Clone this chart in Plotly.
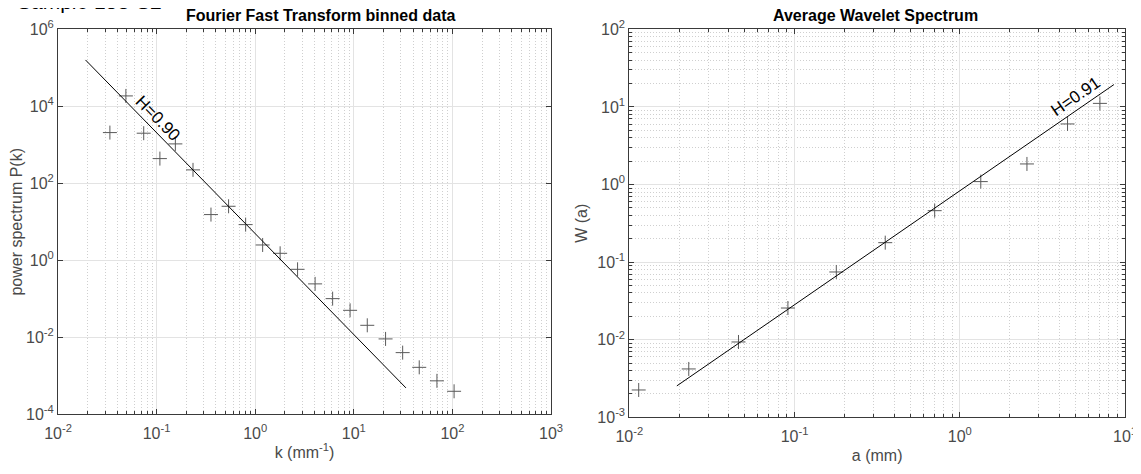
import numpy as np
import plotly.graph_objects as go

# ---------------- data ----------------
k_vals = [0.0336, 0.0488, 0.074, 0.108, 0.155, 0.234, 0.356, 0.537, 0.80, 1.19, 1.79,
          2.69, 4.05, 6.1, 9.17, 13.7, 21.0, 31.3, 46.1, 69.7, 104]
P_vals = [2075, 18600, 2000, 438, 1055, 223, 15.4, 25.3, 8.45, 2.5, 1.52,
          0.583, 0.244, 0.101, 0.0502, 0.0205, 0.00908, 0.0040, 0.00166, 7.4e-4, 3.96e-4]
k_fit = [0.019, 33.8]
P_fit = [1.6e5, 4.85e-4]

a_vals = [0.0114, 0.0229, 0.0458, 0.0912, 0.179, 0.354, 0.705, 1.34, 2.55, 4.49, 7.05]
W_vals = [0.00225, 0.0042, 0.00935, 0.0256, 0.0746, 0.178, 0.46, 1.09, 1.84, 6.03, 11.1]
a_fit = [0.0194, 8.57]
W_fit = [0.00254, 19.4]

left_x_ticks = [1e-2, 1e-1, 1e0, 1e1, 1e2, 1e3]
left_x_text = ["10<sup>-2</sup>", "10<sup>-1</sup>", "10<sup>0</sup>", "10<sup>1</sup>", "10<sup>2</sup>", "10<sup>3</sup>"]
left_y_ticks = [1e-4, 1e-2, 1e0, 1e2, 1e4, 1e6]
left_y_text = ["10<sup>-4</sup>", "10<sup>-2</sup>", "10<sup>0</sup>", "10<sup>2</sup>", "10<sup>4</sup>", "10<sup>6</sup>"]
right_x_ticks = [1e-2, 1e-1, 1e0, 1e1]
right_x_text = ["10<sup>-2</sup>", "10<sup>-1</sup>", "10<sup>0</sup>", "10<sup>1</sup>"]
right_y_ticks = [1e-3, 1e-2, 1e-1, 1e0, 1e1, 1e2]
right_y_text = ["10<sup>-3</sup>", "10<sup>-2</sup>", "10<sup>-1</sup>", "10<sup>0</sup>", "10<sup>1</sup>", "10<sup>2</sup>"]

H_left_label = "H=0.90"
H_right_label = "H=0.91"


def minor_vals(lo, hi):
    out = []
    for e in range(lo, hi):
        for m in range(2, 10):
            out.append(m * 10.0 ** e)
    return out


FONT = "Liberation Sans, Arial, Helvetica, sans-serif"
AXC = "#3a3a3a"
TXT = "#4a4a4a"
GRID = "#e3e3e3"
MGRID = "#cfcfcf"
MARK = "#5a5a5a"
DOT = "1px,2px"

fig = go.Figure()

fig.add_trace(go.Scatter(x=k_vals, y=P_vals, mode="markers", xaxis="x", yaxis="y",
                         marker=dict(symbol="cross-thin", size=10, line=dict(width=1, color=MARK)),
                         showlegend=False))
fig.add_trace(go.Scatter(x=k_fit, y=P_fit, mode="lines", xaxis="x", yaxis="y",
                         line=dict(color="black", width=1), showlegend=False))
fig.add_trace(go.Scatter(x=a_vals, y=W_vals, mode="markers", xaxis="x2", yaxis="y2",
                         marker=dict(symbol="cross-thin", size=10, line=dict(width=1, color=MARK)),
                         showlegend=False))
fig.add_trace(go.Scatter(x=a_fit, y=W_fit, mode="lines", xaxis="x2", yaxis="y2",
                         line=dict(color="black", width=1), showlegend=False))

W_, H_ = 1141, 474
OFF = 8  # page body margin


def px(x):
    return (x - OFF) / W_


def py(y):
    return (H_ - (y - OFF)) / H_


common = dict(type="log", showline=True, linecolor=AXC, linewidth=1, mirror="allticks",
              ticks="inside", ticklen=5, tickcolor=AXC, showgrid=True, gridcolor=GRID,
              gridwidth=1, zeroline=False, tickfont=dict(family=FONT, size=16, color=TXT),
              tickmode="array", automargin=False)


def minor(lo, hi):
    return dict(tickmode="array", tickvals=minor_vals(lo, hi), ticks="inside", ticklen=3,
                tickcolor=AXC, showgrid=True, gridcolor=MGRID, griddash=DOT, gridwidth=1)


TF = dict(family=FONT, size=16, color=TXT)

fig.update_layout(
    width=W_, height=H_, margin=dict(l=0, r=0, t=0, b=0, autoexpand=False),
    paper_bgcolor="white", plot_bgcolor="white", showlegend=False,
    font=dict(family=FONT, color=TXT),
    xaxis=dict(common, domain=[px(58), px(551)], range=[-2, 3], anchor="y",
               tickvals=left_x_ticks, ticktext=left_x_text, minor=minor(-2, 3), ticklabelstandoff=4,
               title=dict(text="k (mm<sup>-1</sup>)", font=TF, standoff=6)),
    yaxis=dict(common, domain=[py(414.3), py(29.3)], range=[-4, 6], anchor="x",
               tickvals=left_y_ticks, ticktext=left_y_text,
               title=dict(text="power spectrum P(k)", font=TF, standoff=0)),
    xaxis2=dict(common, domain=[px(629.3), px(1125)], range=[-2, 1], anchor="y2",
                tickvals=right_x_ticks, ticktext=right_x_text, minor=minor(-2, 1), ticklabelstandoff=4,
                title=dict(text="a (mm)", font=TF, standoff=6)),
    yaxis2=dict(common, domain=[py(417.3), py(29.3)], range=[-3, 2], anchor="x2",
                tickvals=right_y_ticks, ticktext=right_y_text, minor=minor(-3, 2),
                title=dict(text="W (a)", font=TF, standoff=5)),
)

fig.add_annotation(x=px(320), y=py(15), xref="paper", yref="paper", showarrow=False,
                   xanchor="center", yanchor="middle",
                   text="<b>Fourier Fast Transform binned data</b>",
                   font=dict(family=FONT, size=16, color="black"))
fig.add_annotation(x=px(875), y=py(15), xref="paper", yref="paper", showarrow=False,
                   xanchor="center", yanchor="middle",
                   text="<b>Average Wavelet Spectrum</b>",
                   font=dict(family=FONT, size=16, color="black"))
fig.add_annotation(x=px(15), y=py(15), xref="paper", yref="paper", showarrow=False,
                   xanchor="left", yanchor="bottom",
                   text="Sample 153-S2", font=dict(family=FONT, size=21, color="black"))
fig.add_annotation(x=px(10), y=py(15), xref="paper", yref="paper", showarrow=False,
                   xanchor="right", yanchor="bottom",
                   text="●", font=dict(family="DejaVu Sans", size=19, color="black"))

fig.add_annotation(x=np.log10(0.103), y=np.log10(4800), xref="x", yref="y", showarrow=False,
                   xanchor="center", yanchor="middle",
                   text=H_left_label, textangle=45.6, font=dict(family=FONT, size=17, color="black"))
fig.add_annotation(x=np.log10(5.04), y=np.log10(13.6), xref="x2", yref="y2", showarrow=False,
                   xanchor="center", yanchor="middle",
                   text=H_right_label, textangle=-34.6, font=dict(family=FONT, size=17, color="black"))

fig.write_html("out.html")
